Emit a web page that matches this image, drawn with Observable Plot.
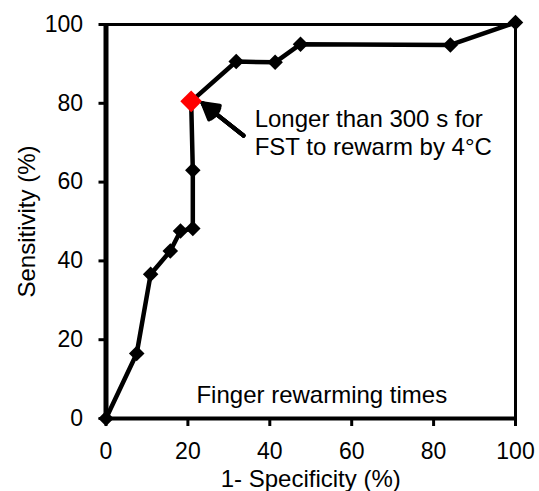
<!DOCTYPE html>
<html>
<head>
<meta charset="utf-8">
<script src="https://cdn.jsdelivr.net/npm/d3@7"></script>
<script src="https://cdn.jsdelivr.net/npm/@observablehq/plot@0.6"></script>
<style>
  html, body { margin: 0; padding: 0; background: #ffffff; }
</style>
</head>
<body>
<div id="chart"></div>
<script>
// ROC curve points (1 - specificity %, sensitivity %)
const fpr = [0, 7.5, 10.9, 15.7, 18.2, 21.2, 21.2, 20.8, 31.8, 41.3, 47.5, 84.1, 100];
const sensitivity = [0, 16.5, 36.6, 42.5, 47.6, 48.2, 63, 80.5, 90.6, 90.4, 95, 94.8, 100.5];
const highlightIndex = 7; // the cut-off marked in red

const xTicks = [0, 20, 40, 60, 80, 100];
const yTicks = [0, 20, 40, 60, 80, 100];
const xLabel = ["1- Specificity (%)"];
const yLabel = ["Sensitivity (%)"];

const annotationLines = ["Longer than 300 s for", "FST to rewarm by 4°C"];
const annotationX = [36.3, 36.3];
const annotationY = [73.9, 67];
const arrowFrom = [33.6, 71.8];
const arrowTo = [23.6, 80];

const panelLabel = ["Finger rewarming times"];
const panelLabelX = [52.7];
const panelLabelY = [4];

const points = fpr.map((x, i) => ({x, y: sensitivity[i]}));
const highlight = [points[highlightIndex]];
const notes = annotationLines.map((t, i) => ({t, x: annotationX[i], y: annotationY[i]}));
const arrows = [{x1: arrowFrom[0], y1: arrowFrom[1], x2: arrowTo[0], y2: arrowTo[1]}];
const panel = panelLabel.map((t, i) => ({t, x: panelLabelX[i], y: panelLabelY[i]}));

// several nested heads so the arrowhead reads as a filled triangle
const headAngles = [60, 45, 30, 15];

const chart = Plot.plot({
  width: 539,
  height: 491,
  marginLeft: 105.5,
  marginRight: 24,
  marginTop: 24,
  marginBottom: 73,
  x: {domain: [0, 100]},
  y: {domain: [0, 100]},
  style: {
    fontFamily: "'Liberation Sans', Arial, sans-serif",
    fontSize: "23px",
    background: "#ffffff",
    color: "#000000"
  },
  marks: [
    Plot.axisX({ticks: xTicks, tickSize: 8, tickPadding: 16, strokeWidth: 3, fontSize: 23, label: null}),
    Plot.axisY({ticks: yTicks, tickSize: 7, tickPadding: 16, strokeWidth: 3, fontSize: 23, label: null}),
    Plot.text(xLabel, {frameAnchor: "bottom", dy: 68, lineAnchor: "bottom", textAnchor: "middle", text: (d) => d, fontSize: 24, fill: "#000000"}),
    Plot.text(yLabel, {frameAnchor: "left", dx: -79, rotate: -90, textAnchor: "middle", lineAnchor: "middle", text: (d) => d, fontSize: 24, fill: "#000000"}),
    Plot.frame({stroke: "#000000", strokeWidth: 3}),
    Plot.ruleX([0], {stroke: "#000000", strokeWidth: 5}),
    Plot.ruleY([0], {stroke: "#000000", strokeWidth: 4}),
    Plot.line(points, {x: "x", y: "y", stroke: "#000000", strokeWidth: 4.5, strokeLinejoin: "miter"}),
    Plot.dot(points, {x: "x", y: "y", symbol: "diamond2", r: 7, fill: "#000000", stroke: "none"}),
    Plot.dot(highlight, {x: "x", y: "y", symbol: "diamond2", r: 9.8, fill: "#ff0000", stroke: "none"}),
    ...headAngles.map((a) => Plot.arrow(arrows, {x1: "x1", y1: "y1", x2: "x2", y2: "y2", stroke: "#000000", strokeWidth: 4, headLength: 12, headAngle: a})),
    Plot.text(notes, {x: "x", y: "y", text: "t", textAnchor: "start", lineAnchor: "bottom", fontSize: 24, fill: "#000000"}),
    Plot.text(panel, {x: "x", y: "y", text: "t", textAnchor: "middle", lineAnchor: "bottom", fontSize: 24, fill: "#000000"})
  ]
});
document.getElementById("chart").appendChild(chart);
</script>
</body>
</html>
